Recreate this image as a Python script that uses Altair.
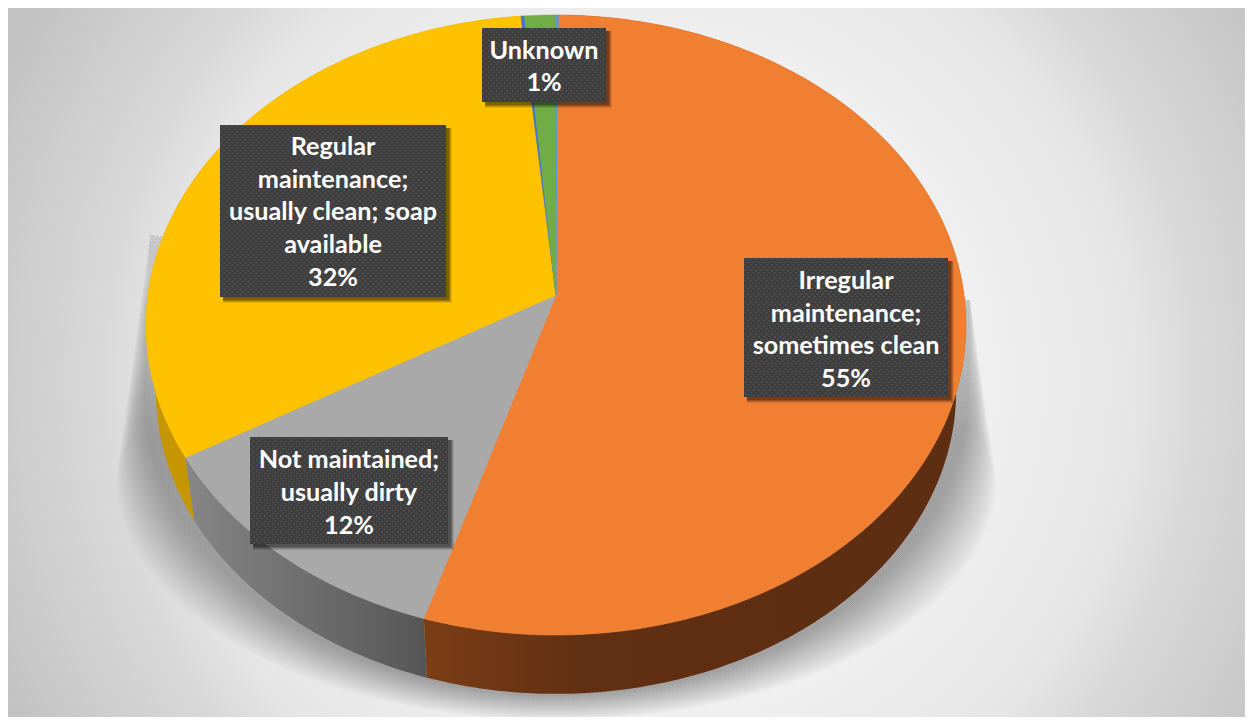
import math
import altair as alt
import numpy as np
import pandas as pd

W, H = 1237, 709
OX, OY = 8, 8

# slices clockwise from the top (percent)
slices = ["Irregular", "Not maintained", "Regular", "Sliver", "Unknown", "Sliver 2"]
shares = [54.65, 11.85, 31.9, 0.15, 1.35, 0.1]
top_colors = ["#f17f32", "#a9a9a9", "#ffc200", "#4472c4", "#70ad47", "#5b9bd5"]
start_share = 0.1

label_texts = [
    "Irregular\nmaintenance;\nsometimes clean\n55%",
    "Regular\nmaintenance;\nusually clean; soap\navailable\n32%",
    "Not maintained;\nusually dirty\n12%",
    "Unknown\n1%",
]
box_x0 = [744, 220, 250, 482]
box_x1 = [948, 446, 448, 606]
box_y0 = [258, 125, 437, 28]
box_y1 = [397, 297, 544, 102]
text_y_shift = [2.5, 1.5, 2.5, 2]
LINE_H = 32.6

# perspective model of the pie disc
APEX = (556, 295)
K, A, B = 0.0968, 307.1, 408.0
SCALE_B, APEX_B_Y = 0.976, 362.0


def rim(theta, bottom=False):
    d = 1 + K * math.cos(theta)
    dx, dy = B * math.sin(theta) / d, -A * math.cos(theta) / d
    if bottom:
        return [APEX[0] + SCALE_B * dx, APEX_B_Y + SCALE_B * dy]
    return [APEX[0] + dx, APEX[1] + dy]


def feat(ring, name):
    ring = ring + [ring[0]]
    return {"type": "Feature", "properties": {"name": name},
            "geometry": {"type": "Polygon", "coordinates": [ring]}}


def thetas(a, b):
    n = max(3, int(abs(b - a) * 4) + 2)
    return [2 * math.pi * (a + (b - a) * i / (n - 1)) / 100 for i in range(n)]


def shape(features, **mark):
    return alt.Chart(alt.Data(values=features)).mark_geoshape(**mark).project(
        type="identity", scale=1, translate=[-OX, -OY])


bounds = np.cumsum([start_share] + shares)
top_layers, side_layers = [], []
side_fill = {
    "Irregular": alt.Gradient(gradient="linear", x1=0, x2=1, y1=0, y2=0,
                              stops=[alt.GradientStop(color="#7b3e16", offset=0),
                                     alt.GradientStop(color="#612f12", offset=0.3),
                                     alt.GradientStop(color="#5d2e12", offset=1)]),
    "Not maintained": alt.Gradient(gradient="linear", x1=0, x2=1, y1=0, y2=0,
                                   stops=[alt.GradientStop(color="#868686", offset=0),
                                          alt.GradientStop(color="#565656", offset=1)]),
    "Regular": "#c69600",
}
for i, name in enumerate(slices):
    a, b = bounds[i], bounds[i + 1]
    ts = thetas(a, b)
    wedge = [list(APEX)] + [rim(t) for t in ts]
    top_layers.append(shape([feat(wedge, name)], fill=top_colors[i],
                            stroke=top_colors[i], strokeWidth=0.6))
    if name in side_fill:
        ring = [rim(t) for t in ts] + [rim(t, True) for t in reversed(ts)]
        side_layers.append(shape([feat(ring, name)], fill=side_fill[name], strokeWidth=0))
side_layers = [side_layers[2], side_layers[1], side_layers[0]]

# soft drop shadow under the disc: stacked translucent outlines, fading upward
shadow_fill = alt.Gradient(gradient="linear", x1=0, x2=0, y1=0, y2=1,
                           stops=[alt.GradientStop(color="rgba(0,0,0,0.002)", offset=0),
                                  alt.GradientStop(color="rgba(0,0,0,0.014)", offset=0.42),
                                  alt.GradientStop(color="rgba(0,0,0,0.014)", offset=1)])
shadow_layers = []
for s in np.linspace(0, 1, 26):
    rx, ry, cy = 412 + 28 * s, 300 - 60 * s, 395 + 85 * s
    ang = np.linspace(0, math.pi, 60)
    ring = [[970, 300]] + \
           [[556 + rx * math.cos(t), cy + ry * math.sin(t)] for t in ang] + \
           [[150, 235]]
    shadow_layers.append(shape([feat(ring, "shadow")], fill=shadow_fill, strokeWidth=0))

x_scale = alt.Scale(domain=[OX, OX + W], nice=False, zero=False)
y_scale = alt.Scale(domain=[OY + H, OY], nice=False, zero=False)
x_enc = alt.X("x0:Q", scale=x_scale, axis=None)
y_enc = alt.Y("y0:Q", scale=y_scale, axis=None)

# square rect, clipped to the view, so that the radial gradient stays circular
bg = alt.Chart(pd.DataFrame({"x0": [-70], "x1": [1370], "y0": [-340], "y1": [1100]})).mark_rect(
    clip=True,
    fill=alt.Gradient(gradient="radial", x1=0.5, y1=0.5, x2=0.5, y2=0.5, r1=0, r2=0.5,
                      stops=[alt.GradientStop(color="#f6f6f6", offset=0),
                             alt.GradientStop(color="#f0f0f0", offset=0.45),
                             alt.GradientStop(color="#e6e6e6", offset=0.67),
                             alt.GradientStop(color="#d9d9d9", offset=0.76),
                             alt.GradientStop(color="#cecece", offset=0.88),
                             alt.GradientStop(color="#c2c2c2", offset=1)]),
).encode(x=x_enc, x2="x1:Q", y=y_enc, y2="y1:Q")

boxes = pd.DataFrame({"x0": box_x0, "x1": box_x1, "y0": box_y0, "y1": box_y1,
                      "t": label_texts, "dy": text_y_shift})
boxes["cx"] = (boxes.x0 + boxes.x1) / 2
boxes["n"] = boxes.t.str.count("\n")
boxes["cy"] = (boxes.y0 + boxes.y1) / 2 + boxes.dy - boxes.n * LINE_H / 2

box_shadows = []
for off, op in [(6, 0.1), (5, 0.14), (4, 0.18), (3, 0.22)]:
    sh = boxes.assign(x0=boxes.x0 + 3, x1=boxes.x1 + off, y0=boxes.y0 + 3, y1=boxes.y1 + off)
    box_shadows.append(
        alt.Chart(sh).mark_rect(fill="#000000", opacity=op).encode(x=x_enc, x2="x1:Q", y=y_enc, y2="y1:Q"))

box_rects = alt.Chart(boxes).mark_rect(fill="#3e3e3e").encode(x=x_enc, x2="x1:Q", y=y_enc, y2="y1:Q")

dots = []
for r in boxes.itertuples():
    for j, yy in enumerate(np.arange(r.y0 + 1.5, r.y1 - 0.5, 2.67)):
        for xx in np.arange(r.x0 + 1.5 + (j % 2) * 2.67, r.x1 - 0.5, 5.33):
            dots.append({"x0": round(float(xx), 1), "y0": round(float(yy), 1)})
dot_layer = alt.Chart(pd.DataFrame(dots)).mark_square(size=2.4, color="#585858", opacity=0.9).encode(x=x_enc, y=y_enc)

text_layer = alt.Chart(boxes).mark_text(
    font="Lato", fontWeight="bold", fontSize=25.2, color="#ffffff", align="center", baseline="middle",
    lineBreak="\n", lineHeight=LINE_H,
).encode(x=alt.X("cx:Q", scale=x_scale, axis=None),
         y=alt.Y("cy:Q", scale=y_scale, axis=None), text="t:N")

chart = alt.layer(bg, *shadow_layers, *side_layers, *top_layers, *box_shadows, box_rects, dot_layer, text_layer).properties(
    width=W, height=H, padding=0, background="#ffffff"
).configure_view(stroke=None)

chart.save("out.html", embed_options={"renderer": "svg", "actions": False})
